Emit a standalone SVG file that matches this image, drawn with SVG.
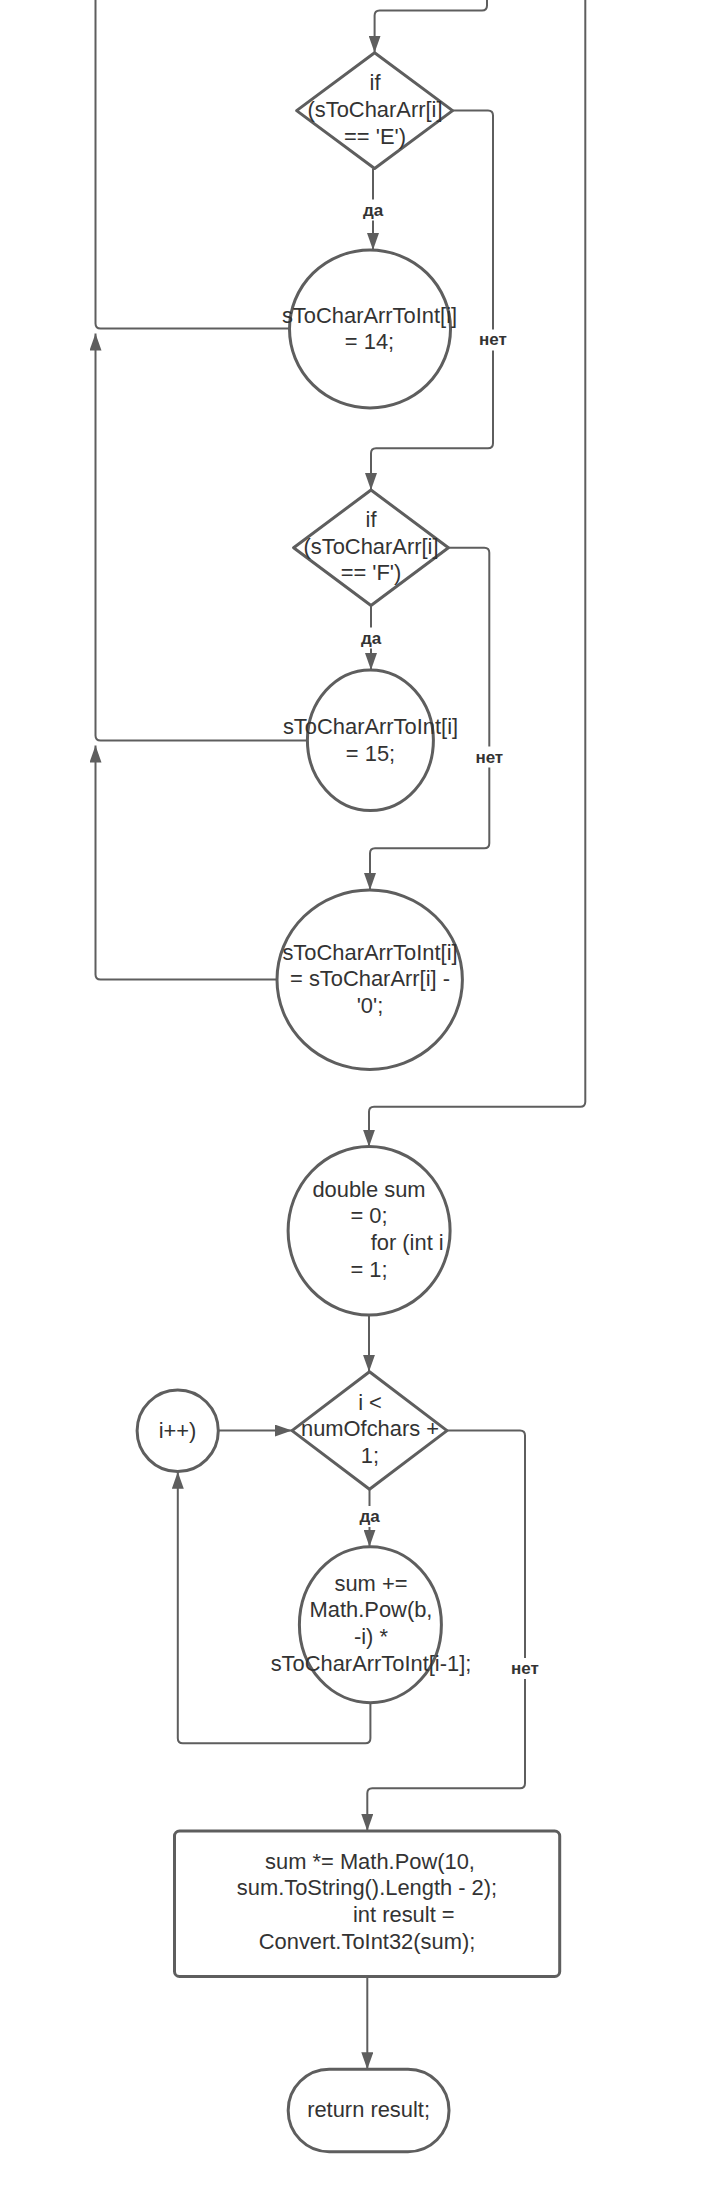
<svg xmlns="http://www.w3.org/2000/svg" width="701" height="2191" viewBox="0 0 701 2191">
<defs>
<marker id="arr" markerUnits="userSpaceOnUse" markerWidth="17" markerHeight="12" refX="17" refY="6" orient="auto">
<path d="M0,0 L17,6 L0,12 Z" fill="#5e5e5e"/>
</marker>
<style>
.shape{fill:#ffffff;stroke:#5e5e5e;stroke-width:3;stroke-linejoin:round}
.con{fill:none;stroke:#5e5e5e;stroke-width:2}
.arr{marker-end:url(#arr)}
.t{font-family:"Liberation Sans",Arial,sans-serif;font-size:21.9px;fill:#333333;text-anchor:middle}
.ts{font-family:"Liberation Sans",Arial,sans-serif;font-size:21.9px;fill:#333333;text-anchor:start}
.lbl{font-family:"Liberation Sans",Arial,sans-serif;font-size:17px;font-weight:bold;fill:#333333;text-anchor:middle}
.lb{fill:#ffffff;stroke:none}
</style>
</defs>
<rect width="701" height="2191" fill="#ffffff"/>
<g id="connectors">
<path class="con arr" d="M487,0 L487,5.5 Q487,10.5 482,10.5 L379.6,10.5 Q374.6,10.5 374.6,15.5 L374.6,52.7"/>
<path class="con arr" d="M373,168.5 L373,250"/>
<path class="con arr" d="M452.6,110.6 L488,110.6 Q493,110.6 493,115.6 L493,443.3 Q493,448.3 488,448.3 L376,448.3 Q371,448.3 371,453.3 L371,490"/>
<path class="con" d="M289.5,328.5 L100.5,328.5 Q95.5,328.5 95.5,323.5 L95.5,0"/>
<path class="con arr" d="M371,605.5 L371,670"/>
<path class="con arr" d="M448.4,547.7 L484.3,547.7 Q489.3,547.7 489.3,552.7 L489.3,843.3 Q489.3,848.3 484.3,848.3 L375,848.3 Q370,848.3 370,853.3 L370,890"/>
<path class="con arr" d="M307.4,740.5 L100.5,740.5 Q95.5,740.5 95.5,735.5 L95.5,333.5"/>
<path class="con arr" d="M277,979.5 L100.5,979.5 Q95.5,979.5 95.5,974.5 L95.5,745.5"/>
<path class="con arr" d="M585.3,0 L585.3,1101.7 Q585.3,1106.7 580.3,1106.7 L374,1106.7 Q369,1106.7 369,1111.7 L369,1146.7"/>
<path class="con arr" d="M369,1315 L369,1371.8"/>
<path class="con arr" d="M218.3,1430.6 L292,1430.6"/>
<path class="con arr" d="M369.5,1489.2 L369.5,1546.7"/>
<path class="con arr" d="M370.4,1702.7 L370.4,1738.3 Q370.4,1743.3 365.4,1743.3 L182.8,1743.3 Q177.8,1743.3 177.8,1738.3 L177.8,1471.8"/>
<path class="con arr" d="M447,1430.6 L520,1430.6 Q525,1430.6 525,1435.6 L525,1783.3 Q525,1788.3 520,1788.3 L372.3,1788.3 Q367.3,1788.3 367.3,1793.3 L367.3,1831"/>
<path class="con arr" d="M367.3,1976.5 L367.3,2069.3"/>
<rect class="lb" x="360" y="199.5" width="26" height="21"/>
<text class="lbl" x="373" y="215.5">да</text>
<rect class="lb" x="476" y="329.5" width="34" height="21"/>
<text class="lbl" x="493" y="345">нет</text>
<rect class="lb" x="358" y="627.5" width="26" height="21"/>
<text class="lbl" x="371" y="643.5">да</text>
<rect class="lb" x="472.3" y="746.5" width="34" height="21"/>
<text class="lbl" x="489.3" y="762.5">нет</text>
<rect class="lb" x="356.5" y="1506" width="26" height="21"/>
<text class="lbl" x="369.5" y="1522">да</text>
<rect class="lb" x="508" y="1658" width="34" height="21"/>
<text class="lbl" x="525" y="1674">нет</text>
</g>
<g id="node-if-e">
<path class="shape" d="M374.6,52.7 L452.6,110.6 L374.6,168.5 L296.6,110.6 Z"/>
<text class="t" x="375" y="90.3">if</text>
<text class="t" x="375" y="117">(sToCharArr[i]</text>
<text class="t" x="375" y="143.7">== 'E')</text>
</g>
<g id="node-set-14">
<ellipse class="shape" cx="370" cy="329" rx="80.5" ry="79"/>
<text class="t" x="369.5" y="322.7">sToCharArrToInt[i]</text>
<text class="t" x="369.5" y="349.4">= 14;</text>
</g>
<g id="node-if-f">
<path class="shape" d="M371,490 L448.4,547.7 L371,605.5 L293.6,547.7 Z"/>
<text class="t" x="371" y="527">if</text>
<text class="t" x="371" y="553.7">(sToCharArr[i]</text>
<text class="t" x="371" y="580.4">== 'F')</text>
</g>
<g id="node-set-15">
<ellipse class="shape" cx="370.4" cy="740.3" rx="63" ry="70.3"/>
<text class="t" x="370.5" y="733.8">sToCharArrToInt[i]</text>
<text class="t" x="370.5" y="760.5">= 15;</text>
</g>
<g id="node-set-digit">
<ellipse class="shape" cx="369.7" cy="979.7" rx="92.7" ry="89.7"/>
<text class="t" x="370" y="959.5">sToCharArrToInt[i]</text>
<text class="t" x="370" y="986.2">= sToCharArr[i] -</text>
<text class="t" x="370" y="1012.9">'0';</text>
</g>
<g id="node-init-sum">
<ellipse class="shape" cx="369.1" cy="1230.8" rx="81" ry="84.2"/>
<text class="t" x="369" y="1196.5">double sum</text>
<text class="t" x="369" y="1223.2">= 0;</text>
<text class="ts" x="370.7" y="1249.9">for (int i</text>
<text class="t" x="369" y="1276.6">= 1;</text>
</g>
<g id="node-cond">
<path class="shape" d="M369.5,1371.8 L447,1430.6 L369.5,1489.2 L292,1430.6 Z"/>
<text class="t" x="370" y="1409.5">i &lt;</text>
<text class="t" x="370" y="1436.2">numOfchars +</text>
<text class="t" x="370" y="1462.9">1;</text>
</g>
<g id="node-inc">
<ellipse class="shape" cx="177.7" cy="1430.8" rx="40.6" ry="40.8"/>
<text class="t" x="177.5" y="1438.3">i++)</text>
</g>
<g id="node-sum-add">
<ellipse class="shape" cx="370.4" cy="1624.7" rx="71" ry="78"/>
<text class="t" x="371" y="1590.5">sum +=</text>
<text class="t" x="371" y="1617.2">Math.Pow(b,</text>
<text class="t" x="371" y="1643.9">-i) *</text>
<text class="t" x="371" y="1670.6">sToCharArrToInt[i-1];</text>
</g>
<g id="node-result">
<rect class="shape" x="174.5" y="1831" width="385.2" height="145.5" rx="5"/>
<text class="t" x="370" y="1868.5">sum *= Math.Pow(10,</text>
<text class="t" x="367" y="1895.2">sum.ToString().Length - 2);</text>
<text class="ts" x="353" y="1921.9">int result =</text>
<text class="t" x="367" y="1948.6">Convert.ToInt32(sum);</text>
</g>
<g id="node-return">
<rect class="shape" x="288.2" y="2069.3" width="160.8" height="82.4" rx="41" ry="41"/>
<text class="t" x="368.6" y="2117">return result;</text>
</g>
</svg>
